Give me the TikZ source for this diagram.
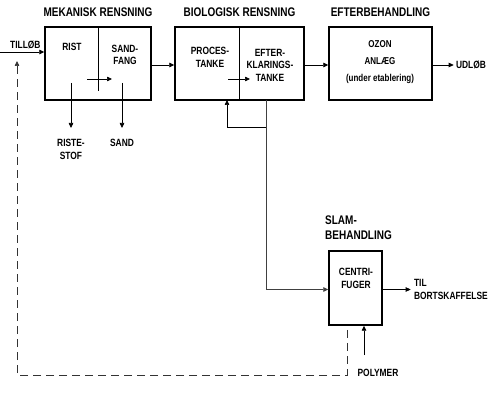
\documentclass[tikz,border=0pt]{standalone}
\usepackage{fontspec}
\newfontfamily\diafont[FakeStretch=0.8]{Liberation Sans}
\usetikzlibrary{arrows.meta,positioning}
\tikzset{
  unit/.style={
    draw=black,
    line width=1.4pt,
    minimum height=73pt,
    inner sep=0pt
  },
  heading/.style={
    font=\diafont\bfseries\fontsize{12.5}{15}\selectfont,
    inner sep=0pt
  },
  txt/.style={
    font=\diafont\bfseries\fontsize{10.5}{12.5}\selectfont,
    align=center,
    inner sep=0pt
  },
  flow/.style={
    -{Triangle[length=5pt,width=4.5pt]},
    line width=0.7pt
  },
  feedback/.style={
    dash pattern=on 8pt off 5pt,
    line width=0.7pt,
    draw=black!80
  }
}

\begin{document}
\begin{tikzpicture}[x=1pt,y=-1pt]
\useasboundingbox (0,0) rectangle (490,403);

% process units
\node[unit, minimum width=106pt] (mek) at (98,63.5) {};
\node[unit, minimum width=129pt] (bio) at (239.5,63.5) {};
\node[unit, minimum width=103pt] (ozon) at (380.5,63.5) {};
\node[unit, minimum width=53pt, minimum height=74pt] (centri) at (355.5,288) {};

\draw[line width=1pt] (mek.north) -- ++(0,65);
\draw[line width=1pt] (bio.north) -- (bio.south);

% headings
\node[heading, above=9.5pt of mek] (mektitle) {MEKANISK RENSNING};
\node[heading, above=9.5pt of bio] (biotitle) {BIOLOGISK RENSNING};
\node[heading, above=9.5pt of ozon] (ozontitle) {EFTERBEHANDLING};
\node[heading, align=left, anchor=west] (slamtitle) at (325,228) {SLAM-\\BEHANDLING};

% texts in the units
\node[txt] (rist) at (72,47) {RIST};
\node[txt] (sandfang) at (125,55) {SAND-\\FANG};
\node[txt] (proces) at (210,57.5) {PROCES-\\TANKE};
\node[txt] (efter) at (270,65) {EFTER-\\KLARINGS-\\TANKE};
\node[txt, font=\diafont\bfseries\fontsize{10}{17}\selectfont] (ozontxt) at (380,62)
  {OZON\\ANLÆG\\(under etablering)};
\node[txt] (centritxt) at (356,278.5) {CENTRI-\\FUGER};

% main flow
\coordinate (inlet) at (0,52);
\node[txt, anchor=south west] (tillob) at (10,49.5) {TILLØB};
\draw[flow] (inlet) -- (inlet -| mek.west);
\draw[flow] ([yshift=-1.5pt]mek.east) -- ([yshift=-1.5pt]bio.west);
\draw[flow] ([yshift=-1.5pt]bio.east) -- ([yshift=-1.5pt]ozon.west);
\draw[flow] ([yshift=-1.5pt]ozon.east) -- ++(21,0) node[txt, right=2pt] (udlob) {UDLØB};

\coordinate (mekflow) at (87,79);
\draw[flow] (mekflow) -- ++(25,0);
\coordinate (bioflow) at (228,79);
\draw[flow] (bioflow) -- ++(22,0);

\coordinate (ristout) at (71,83);
\draw[flow] (ristout) -- ++(0,45) node[txt, below=11pt] (riste) {RISTE-\\STOF};
\coordinate (sandout) at (122,83);
\draw[flow] (sandout) -- ++(0,45) node[txt, below=11pt] (sand) {SAND};

% sludge
\coordinate (bioout) at (266,100);
\coordinate (loopturn) at (266,127);
\coordinate (return) at (227,100);
\draw[flow] (loopturn) -| (return);
\draw[flow, draw=black!75] (bioout) |- ([yshift=-1.5pt]centri.west);
\draw[flow] ([yshift=-1.5pt]centri.east) -- ++(28,0) node[txt, right=3pt, align=left] (bort) {TIL\\BORTSKAFFELSE};

\coordinate (polyin) at (364,355);
\node[txt] (polymer) at (378,373) {POLYMER};
\draw[flow] (polyin) -- (polyin |- centri.south);

% reject water back to inlet
\coordinate (recstart) at (347,330);
\coordinate (reccorner) at (17,375);
\coordinate (recend) at (17,61);
\draw[feedback, -{Triangle[length=5pt,width=4.5pt]}] (recstart) |- (reccorner) -- (recend);

\end{tikzpicture}
\end{document}
